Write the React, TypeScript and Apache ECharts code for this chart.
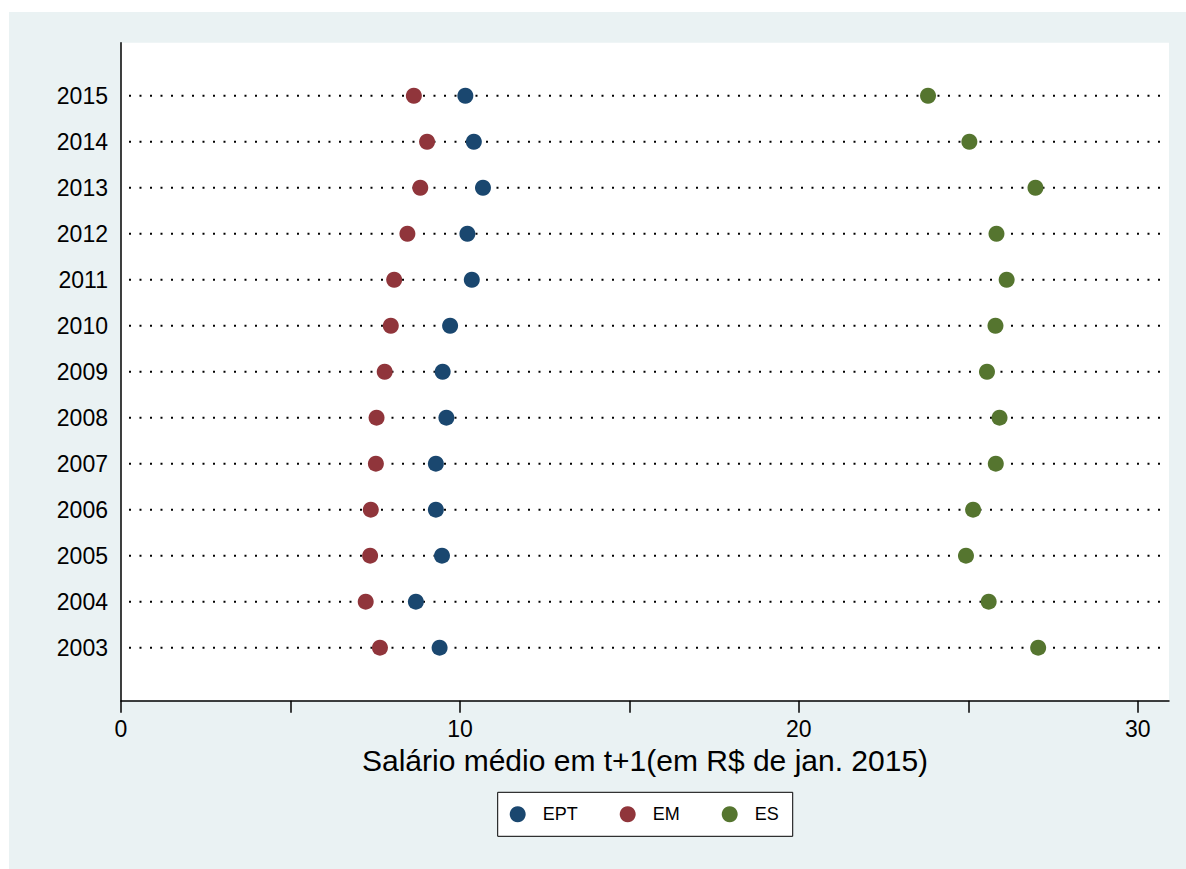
import React, { useEffect, useRef } from "react";
import * as echarts from "echarts";

// Years on the vertical axis (bottom to top)
const YEARS = [2003, 2004, 2005, 2006, 2007, 2008, 2009, 2010, 2011, 2012, 2013, 2014, 2015];

// Mean wage in t+1 (R$ of Jan. 2015), one value per year above
const EPT = [9.4, 8.7, 9.47, 9.29, 9.29, 9.6, 9.49, 9.71, 10.35, 10.22, 10.68, 10.41, 10.16];
const EM = [7.64, 7.22, 7.35, 7.37, 7.52, 7.54, 7.78, 7.96, 8.06, 8.45, 8.83, 9.03, 8.64];
const ES = [27.06, 25.6, 24.93, 25.14, 25.81, 25.92, 25.55, 25.8, 26.13, 25.83, 26.98, 25.03, 23.81];

// Horizontal axis ticks and labels
const X_TICKS = [0, 5, 10, 15, 20, 25, 30];
const X_LABELS = [0, 10, 20, 30];

const SERIES_NAMES = ["EPT", "EM", "ES"];
const SERIES_COLORS = ["#1a476f", "#90353b", "#55752f"];

const X_MAX = 30.92;
const Y_MIN = 2001.847;
const Y_MAX = 2016.153;
// Extent of the dotted guide line drawn across each year row
const GUIDE_FROM = 0.236;
const GUIDE_TO = 30.67;

const FONT = "'Liberation Sans', Arial, Helvetica, sans-serif";

export default function App() {
  const ref = useRef<HTMLDivElement>(null);

  useEffect(() => {
    if (!ref.current) return;
    const chart = echarts.init(ref.current, null, { renderer: "svg" });

    const guides = YEARS.map((y) => ({
      type: "line",
      name: `guide-${y}`,
      silent: true,
      symbol: "none",
      z: 1,
      lineStyle: { color: "#000", width: 2, type: [2, 8.5] },
      data: [
        [GUIDE_FROM, y],
        [GUIDE_TO, y],
      ],
    }));

    const values = [EPT, EM, ES];
    const dots = SERIES_NAMES.map((name, k) => ({
      type: "scatter",
      name,
      symbol: "circle",
      symbolSize: 16,
      z: 3,
      itemStyle: { color: SERIES_COLORS[k], opacity: 1 },
      data: YEARS.map((y, i) => [values[k][i], y]),
    }));

    chart.setOption({
      animation: false,
      backgroundColor: "#eaf2f3",
      textStyle: { fontFamily: FONT, color: "#000" },
      grid: {
        left: 112,
        right: 17,
        top: 30.7,
        bottom: 168.3,
        show: true,
        backgroundColor: "#ffffff",
        borderWidth: 0,
      },
      xAxis: {
        type: "value",
        min: 0,
        max: X_MAX,
        name: "Salário médio em t+1(em R$ de jan. 2015)",
        nameLocation: "middle",
        nameGap: 40,
        nameTextStyle: { fontSize: 30, color: "#000", fontFamily: FONT },
        axisLine: { show: true, lineStyle: { color: "#000", width: 1.5 } },
        axisTick: {
          show: true,
          customValues: X_TICKS,
          length: 12,
          lineStyle: { color: "#000", width: 1.5 },
        },
        axisLabel: {
          customValues: X_LABELS,
          fontSize: 23,
          color: "#000",
          margin: 17,
          fontFamily: FONT,
          formatter: (v: number) => String(v),
        },
        splitLine: { show: false },
      },
      yAxis: {
        type: "value",
        min: Y_MIN,
        max: Y_MAX,
        axisLine: { show: true, lineStyle: { color: "#000", width: 1.5 } },
        axisTick: { show: false },
        axisLabel: {
          customValues: YEARS,
          fontSize: 23,
          color: "#000",
          margin: 13,
          fontFamily: FONT,
          formatter: (v: number) => String(v),
        },
        splitLine: { show: false },
      },
      legend: {
        data: SERIES_NAMES,
        icon: "circle",
        itemWidth: 40,
        itemHeight: 16,
        itemGap: 42,
        left: 488.7,
        top: 780.3,
        padding: [13, 14, 13, 12],
        borderColor: "#000",
        borderWidth: 1,
        backgroundColor: "#ffffff",
        selectedMode: false,
        textStyle: { fontSize: 18, color: "#000", fontFamily: FONT },
      },
      series: [...guides, ...dots],
    });

    return () => chart.dispose();
  }, []);

  return (
    <div
      style={{
        position: "absolute",
        left: 0,
        top: 0,
        width: 1186,
        height: 869,
        background: "#ffffff",
      }}
    >
      <div
        ref={ref}
        style={{
          position: "absolute",
          left: 9,
          top: 12,
          width: 1177,
          height: 857,
        }}
      />
    </div>
  );
}
